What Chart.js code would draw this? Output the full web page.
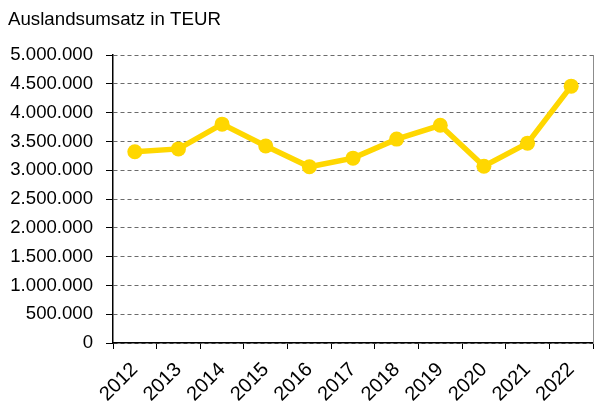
<html>
  <head>
    <style>
body {
  margin: 0;
  background: #fff;
}
#wrap {
  width: 595px;
  height: 401px;
}
    </style>
  </head>
  <body>
    <div id="wrap"><canvas id="chart" width="595" height="401"></canvas></div>
    <script src="https://cdn.jsdelivr.net/npm/chart.js"></script>
    <script>

const years = ['2012', '2013', '2014', '2015', '2016', '2017', '2018', '2019', '2020', '2021', '2022']
const umsatz = [3320000, 3370000, 3800000, 3420000, 3060000, 3210000, 3540000, 3780000, 3070000, 3470000, 4460000]
const yMax = 5000000
const yStep = 500000

const FONT = "'Liberation Sans', Arial, sans-serif"
const GOLD = '#FFD700'

function fmt(v) {
  return String(v).replace(/\B(?=(\d{3})+(?!\d))/g, '.')
}

const ctx = document.getElementById('chart').getContext('2d')
const chart = new Chart(ctx, {
  type: 'line',
  data: {
    labels: years,
    datasets: [{
      data: umsatz,
      borderColor: GOLD,
      backgroundColor: GOLD,
      borderWidth: 5.5,
      pointRadius: 7.5,
      pointHoverRadius: 7.5,
      pointBorderWidth: 0,
      tension: 0
    }]
  },
  options: {
    responsive: false,
    animation: false,
    layout: { autoPadding: false, padding: { left: 8, right: 0, top: 0, bottom: 0 } },
    plugins: {
      legend: { display: false },
      tooltip: { enabled: false },
      title: {
        display: true,
        text: 'Auslandsumsatz in TEUR',
        align: 'start',
        color: '#000',
        font: { family: FONT, size: 18.7, weight: 'normal' },
        padding: { top: 9, bottom: 23.6 }
      }
    },
    scales: {
      x: {
        offset: true,
        grid: {
          offset: true,
          drawOnChartArea: false,
          drawTicks: true,
          tickLength: 6,
          color: '#000',
          tickColor: '#000'
        },
        border: { display: true, color: '#000', width: 1.5 },
        ticks: {
          color: '#000',
          font: { family: FONT, size: 20 },
          minRotation: 45,
          maxRotation: 45,
          padding: 9
        },
        afterFit: s => {
          s.height = 58
          s.paddingLeft = 0
          s.paddingRight = 0
        }
      },
      y: {
        min: 0,
        max: yMax,
        ticks: {
          stepSize: yStep,
          color: '#000',
          font: { family: FONT, size: 18.6 },
          padding: 13,
          callback: v => fmt(v)
        },
        grid: {
          color: '#6b6b6b',
          lineWidth: 1,
          drawTicks: true,
          tickLength: 7,
          tickColor: '#000',
          tickBorderDash: []
        },
        border: { display: true, color: '#000', width: 1.5, dash: [4, 3] },
        afterFit: s => { s.width = 105 }
      },
      y2: {
        position: 'right',
        min: 0,
        max: yMax,
        ticks: { display: false },
        grid: { drawOnChartArea: false, drawTicks: false },
        border: { display: true, color: '#8c8c8c', width: 1 },
        afterFit: s => { s.width = 2 }
      }
    }
  }
})
    </script>
  </body>
</html>
